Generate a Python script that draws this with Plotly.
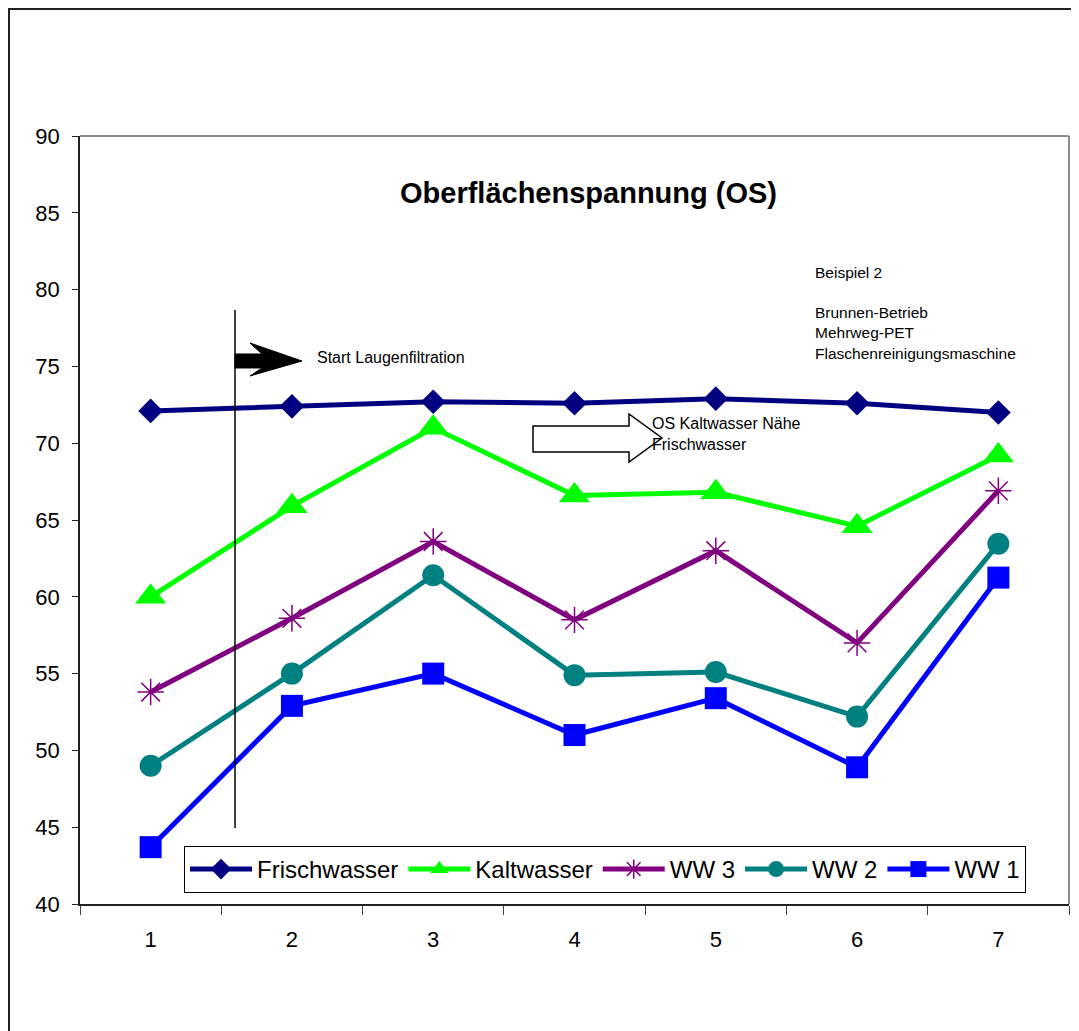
import plotly.graph_objects as go

categories = ["1", "2", "3", "4", "5", "6", "7"]
frischwasser = [72.1, 72.4, 72.7, 72.6, 72.9, 72.6, 72.0]
kaltwasser = [60.0, 65.9, 71.0, 66.6, 66.8, 64.6, 69.2]
ww3 = [53.8, 58.6, 63.6, 58.5, 63.0, 57.0, 66.9]
ww2 = [49.0, 55.0, 61.4, 54.9, 55.1, 52.2, 63.45]
ww1 = [43.7, 52.9, 55.0, 51.0, 53.4, 48.9, 61.25]
y_ticks = [40, 45, 50, 55, 60, 65, 70, 75, 80, 85, 90]

FONT = "Liberation Sans, Arial, sans-serif"
OFF = 8  # default page body margin
W, H = 1079 - OFF, 1031 - OFF
L, T = 80 - OFF, 136 - OFF
R = W - (1069 - OFF)
B = H - (904 - OFF)
PW, PH = W - L - R, H - T - B


def px(x):
    return (x - OFF - L) / PW


def py(y):
    return (H - B - (y - OFF)) / PH


series = [
    ("Frischwasser", frischwasser, "#000080", "diamond", 19, 0),
    ("Kaltwasser", kaltwasser, "#00FF00", "triangle-up", 27, 0),
    ("WW 3", ww3, "#800080", "asterisk-open", 22, 1.5),
    ("WW 2", ww2, "#008080", "circle", 22, 0),
    ("WW 1", ww1, "#0000FF", "square", 22, 0),
]

fig = go.Figure()
for name, vals, col, sym, size, mlw in series:
    fig.add_trace(go.Scatter(
        x=categories, y=vals, name=name, mode="lines+markers",
        line=dict(color=col, width=5),
        marker=dict(symbol=sym, size=size, color=col,
                    line=dict(color=col, width=mlw)),
    ))

shapes = []
# outer chart border
shapes.append(dict(type="rect", xref="paper", yref="paper",
                   x0=px(9), x1=px(1095), y0=py(1050), y1=py(9),
                   line=dict(color="#222222", width=2), layer="below"))
# plot area grey border (top + right)
shapes.append(dict(type="line", xref="paper", yref="paper",
                   x0=0, x1=1, y0=1, y1=1, line=dict(color="#8c8c8c", width=2)))
shapes.append(dict(type="line", xref="paper", yref="paper",
                   x0=1, x1=1, y0=0, y1=1, line=dict(color="#8c8c8c", width=2)))
# vertical marker line
shapes.append(dict(type="line", xref="paper", yref="paper",
                   x0=px(235), x1=px(235), y0=py(828), y1=py(310),
                   line=dict(color="black", width=1.5)))


def path(points):
    return "M " + " L ".join(f"{px(a):.5f},{py(b):.5f}" for a, b in points) + " Z"


# black stealth arrow
shapes.append(dict(type="path", xref="paper", yref="paper",
                   path=path([(235, 354), (262, 354), (250, 343), (302, 361),
                              (250, 376), (262, 368), (235, 368)]),
                   fillcolor="black", line=dict(color="black", width=1)))
# hollow block arrow
shapes.append(dict(type="path", xref="paper", yref="paper",
                   path=path([(533, 426), (629, 426), (629, 414), (662, 438),
                              (629, 462), (629, 452), (533, 452)]),
                   fillcolor="white", line=dict(color="black", width=1.5)))

annotations = [
    dict(text="<b>Oberflächenspannung (OS)</b>", x=px(588), y=py(193),
         xref="paper", yref="paper", showarrow=False, xanchor="center",
         yanchor="middle", font=dict(family=FONT, size=29, color="black")),
    dict(text="Beispiel 2<br> <br>Brunnen-Betrieb<br>Mehrweg-PET<br>Flaschenreinigungsmaschine",
         x=px(813), y=py(262), xref="paper", yref="paper", showarrow=False,
         xanchor="left", yanchor="top", align="left",
         font=dict(family=FONT, size=15.5, color="black")),
    dict(text="Start Laugenfiltration", x=px(315), y=py(357),
         xref="paper", yref="paper", showarrow=False, xanchor="left",
         yanchor="middle", font=dict(family=FONT, size=16, color="black")),
    dict(text="OS Kaltwasser Nähe<br>Frischwasser", x=px(650), y=py(434),
         xref="paper", yref="paper", showarrow=False, xanchor="left",
         yanchor="middle", align="left",
         font=dict(family=FONT, size=16, color="black")),
]

fig.update_layout(
    width=W, height=H,
    margin=dict(l=L, r=R, t=T, b=B, autoexpand=False),
    paper_bgcolor="white", plot_bgcolor="white",
    font=dict(family=FONT, color="black"),
    showlegend=True,
    legend=dict(orientation="h", x=px(184), y=py(846), xanchor="left",
                yanchor="top", bgcolor="white", bordercolor="black",
                borderwidth=1, font=dict(family=FONT, size=24, color="black"),
                itemwidth=62, tracegroupgap=0),
    shapes=shapes,
    annotations=annotations,
    xaxis=dict(type="category", range=[-0.5, 6.5], tickson="boundaries",
               ticks="outside", ticklen=9, tickcolor="#444",
               showline=True, linecolor="#222", linewidth=1.5,
               showgrid=False, zeroline=False, fixedrange=True,
               tickfont=dict(family=FONT, size=22, color="black"),
               ticklabelstandoff=15),
    yaxis=dict(range=[40, 90], tickvals=y_ticks, ticks="outside", ticklen=6,
               tickcolor="#222", showline=True, linecolor="#222", linewidth=1.5,
               showgrid=False, zeroline=False, fixedrange=True,
               tickfont=dict(family=FONT, size=22, color="black"),
               ticklabelstandoff=8),
)

fig.write_html("out.html")
